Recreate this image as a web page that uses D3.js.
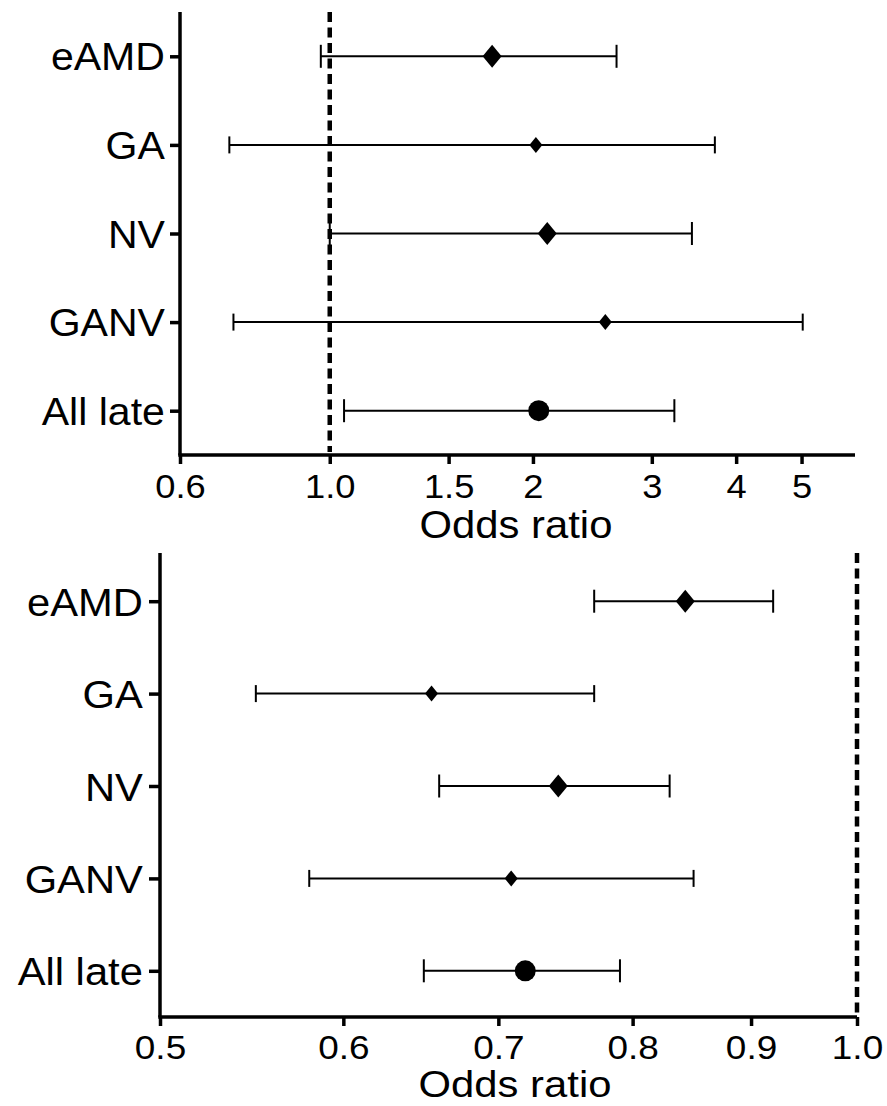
<!DOCTYPE html>
<html>
<head>
<meta charset="utf-8">
<script src="https://cdn.jsdelivr.net/npm/d3@7"></script>
<style>
  body { margin: 0; background: #fff; }
  svg { display: block; }
  text { font-family: "Liberation Sans", Arial, sans-serif; fill: #000; }
</style>
</head>
<body>
<svg width="887" height="1106"></svg>
<script>
const groups = ["eAMD", "GA", "NV", "GANV", "All late"];
const markers = ["diamond", "smallDiamond", "diamond", "smallDiamond", "circle"];

// upper panel
const orA = [1.74, 2.02, 2.10, 2.56, 2.04];
const lowA = [0.97, 0.71, 1.00, 0.72, 1.05];
const highA = [2.66, 3.72, 3.44, 5.02, 3.24];
const ticksA = [0.6, 1.0, 1.5, 2, 3, 4, 5];
const tickLabelsA = ["0.6", "1.0", "1.5", "2", "3", "4", "5"];

// lower panel
const orB = [0.843, 0.655, 0.743, 0.709, 0.719];
const lowB = [0.77, 0.55, 0.66, 0.58, 0.65];
const highB = [0.92, 0.77, 0.83, 0.85, 0.79];
const ticksB = [0.5, 0.6, 0.7, 0.8, 0.9, 1.0];
const tickLabelsB = ["0.5", "0.6", "0.7", "0.8", "0.9", "1.0"];

const svg = d3.select("svg");

// marker sizes (half width / half height, cap half length)
const markerStyle = {
    diamond: { w: 9.5, h: 11.5, cap: 11.5 },
    smallDiamond: { w: 6.5, h: 8, cap: 8.5 },
    circle: { r: 10.5, cap: 11.5 }
};

function drawPanel(cfg) {
    const g = svg.append("g");

    const x = d3.scaleLog()
        .domain(cfg.xDomain)
        .range(cfg.xRange);

    const y = d3.scalePoint()
        .domain(groups)
        .range(cfg.yRange)
        .padding(0.5);

    const rows = groups.map((d, i) => ({
        name: d, or: cfg.or[i], low: cfg.low[i], high: cfg.high[i], marker: markers[i]
    }));

    // reference line at OR = 1
    g.append("line")
        .attr("x1", x(1)).attr("x2", x(1))
        .attr("y1", cfg.lineTop).attr("y2", cfg.axisY - 3)
        .attr("stroke", "#000")
        .attr("stroke-width", 4.5)
        .attr("stroke-dasharray", "10 5.5");

    // error bars
    const bars = g.append("g").selectAll("g")
        .data(rows)
        .enter().append("g")
        .attr("transform", d => `translate(0,${y(d.name)})`);

    bars.append("line")
        .attr("x1", d => x(d.low)).attr("x2", d => x(d.high))
        .attr("stroke", "#000").attr("stroke-width", cfg.barWidth);

    bars.selectAll(".cap")
        .data(d => [d.low, d.high].map(v => ({ v, cap: markerStyle[d.marker].cap })))
        .enter().append("line")
        .attr("class", "cap")
        .attr("x1", d => x(d.v)).attr("x2", d => x(d.v))
        .attr("y1", d => -d.cap).attr("y2", d => d.cap)
        .attr("stroke", "#000").attr("stroke-width", cfg.barWidth);

    // point estimates
    bars.each(function(d) {
        const s = markerStyle[d.marker];
        const sel = d3.select(this);
        if (d.marker === "circle") {
            sel.append("circle")
                .attr("cx", x(d.or)).attr("cy", 0).attr("r", s.r)
                .attr("fill", "#000");
        } else {
            sel.append("path")
                .attr("d", `M${x(d.or)},${-s.h}L${x(d.or) + s.w},0L${x(d.or)},${s.h}L${x(d.or) - s.w},0Z`)
                .attr("fill", "#000");
        }
    });

    // y axis
    const yAxis = g.append("g")
        .attr("transform", `translate(${cfg.xRange[0]},0)`)
        .call(d3.axisLeft(y).tickSize(cfg.yTickSize).tickSizeOuter(0).tickPadding(cfg.yTickPad));
    yAxis.select(".domain").remove();
    yAxis.append("line")
        .attr("y1", cfg.axisTop).attr("y2", cfg.axisY)
        .attr("stroke", "#000").attr("stroke-width", 3.5);
    yAxis.selectAll(".tick line").attr("stroke-width", 3.5);
    yAxis.selectAll(".tick text")
        .attr("dy", "0.36em")
        .style("font-size", cfg.yFont + "px")
        .attr("transform", `scale(${cfg.yStretch},1)`);

    // x axis
    const xAxis = g.append("g")
        .attr("transform", `translate(0,${cfg.axisY})`)
        .call(d3.axisBottom(x)
            .tickValues(cfg.ticks)
            .tickFormat((d, i) => cfg.tickLabels[i])
            .tickSize(cfg.xTickSize)
            .tickSizeOuter(0));
    xAxis.select(".domain").remove();
    xAxis.append("line")
        .attr("x1", cfg.xRange[0] - 1.75).attr("x2", cfg.xRange[1])
        .attr("stroke", "#000").attr("stroke-width", 3.5);
    xAxis.selectAll(".tick line").attr("stroke-width", 3.5);
    xAxis.selectAll(".tick text")
        .attr("y", cfg.xLabelBase).attr("dy", null)
        .style("font-size", cfg.xFont + "px")
        .attr("transform", `scale(${cfg.xStretch},1)`);

    g.append("text")
        .attr("text-anchor", "middle")
        .attr("transform", `translate(${cfg.titleX},${cfg.titleY}) scale(${cfg.titleStretch},1)`)
        .style("font-size", cfg.titleFont + "px")
        .text("Odds ratio");

    g.selectAll(".tick text").attr("fill", "#000");
    g.selectAll(".tick line").attr("stroke", "#000");
}

drawPanel({
    or: orA, low: lowA, high: highA,
    ticks: ticksA, tickLabels: tickLabelsA,
    xDomain: [0.6, 6.0], xRange: [180, 855],
    yRange: [12, 455], axisTop: 12, axisY: 455, lineTop: 12,
    barWidth: 2,
    yTickSize: 10, yTickPad: 4, yFont: 38, yStretch: 1.08,
    xTickSize: 9, xLabelBase: 43, xFont: 33, xStretch: 1.1,
    titleX: 516, titleY: 538, titleFont: 38, titleStretch: 1.1
});

drawPanel({
    or: orB, low: lowB, high: highB,
    ticks: ticksB, tickLabels: tickLabelsB,
    xDomain: [0.5, 1.0], xRange: [160, 857],
    yRange: [555, 1017], axisTop: 553, axisY: 1017, lineTop: 553,
    barWidth: 2,
    yTickSize: 11, yTickPad: 5, yFont: 39, yStretch: 1.07,
    xTickSize: 9, xLabelBase: 42, xFont: 33, xStretch: 1.12,
    titleX: 515, titleY: 1097, titleFont: 37, titleStretch: 1.13
});
</script>
</body>
</html>
